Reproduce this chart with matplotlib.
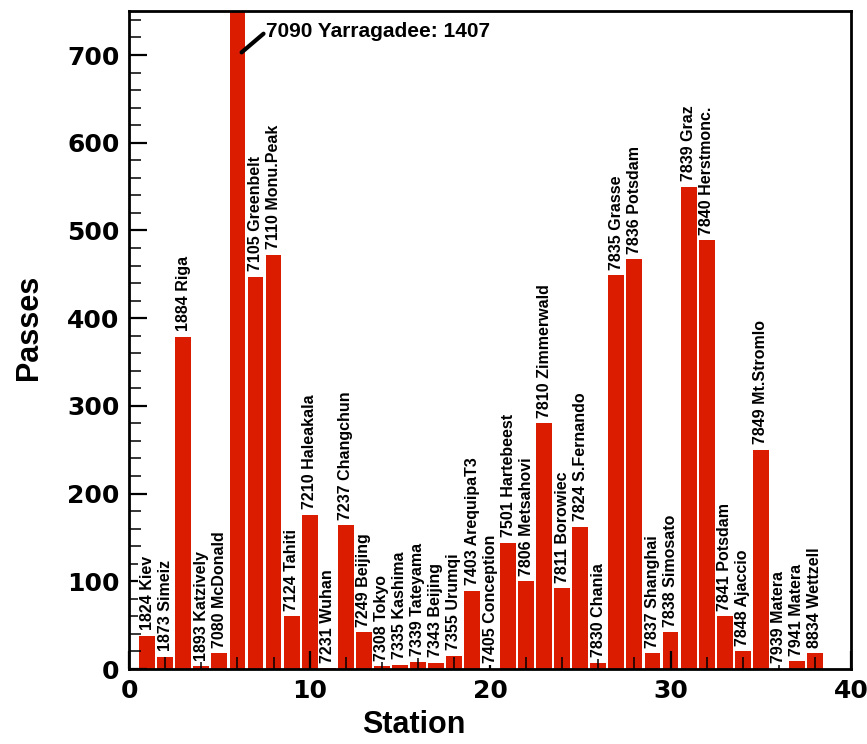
import matplotlib
matplotlib.use('Agg')
import matplotlib.pyplot as plt
import numpy as np

plt.rcParams['font.family'] = ['Liberation Sans', 'DejaVu Sans']

# station codes / names / number of passes
codes = [1824, 1873, 1884, 1893, 7080, 7090, 7105, 7110, 7124, 7210,
         7231, 7237, 7249, 7308, 7335, 7339, 7343, 7355, 7403, 7405,
         7501, 7806, 7810, 7811, 7824, 7830, 7835, 7836, 7837, 7838,
         7839, 7840, 7841, 7848, 7849, 7939, 7941, 8834]
names = ['Kiev', 'Simeiz', 'Riga', 'Katzively', 'McDonald', 'Yarragadee',
         'Greenbelt', 'Monu.Peak', 'Tahiti', 'Haleakala', 'Wuhan', 'Changchun',
         'Beijing', 'Tokyo', 'Kashima', 'Tateyama', 'Beijing', 'Urumqi',
         'ArequipaT3', 'Conception', 'Hartebeest', 'Metsahovi', 'Zimmerwald',
         'Borowiec', 'S.Fernando', 'Chania', 'Grasse', 'Potsdam', 'Shanghai',
         'Simosato', 'Graz', 'Herstmonc.', 'Potsdam', 'Ajaccio', 'Mt.Stromlo',
         'Matera', 'Matera', 'Wettzell']
passes = [38, 14, 379, 3, 18, 1407, 447, 472, 60, 176,
          1, 164, 42, 3, 5, 8, 7, 15, 89, 0,
          144, 100, 280, 92, 162, 7, 449, 467, 18, 42,
          550, 489, 60, 20, 250, 0, 9, 18]

station = np.arange(1, len(passes) + 1)
ymax = 750

fig = plt.figure(figsize=(8.67, 7.44), dpi=100)
ax = fig.add_axes([0.149, 0.1008, 0.8325, 0.8842])

ax.bar(station, passes, width=0.88, color='#dc1c00', edgecolor='none')

for x, c, n, v in zip(station, codes, names, passes):
    if v > ymax:
        # clipped bar -> horizontal note with leader line
        ax.annotate(f'{c} {n}: {v}', xy=(6.23, 703), xytext=(7.6, 727),
                    fontsize=15, fontweight='bold', va='center', ha='left',
                    arrowprops=dict(arrowstyle='-', lw=3, color='black',
                                    shrinkA=0, shrinkB=0, relpos=(0, 0.5)))
        continue
    ax.annotate(f'{c} {n}', xy=(x, v), xytext=(0, 4), textcoords='offset points',
                rotation=90, ha='center', va='bottom', fontsize=11.5,
                fontweight='bold',
                bbox=dict(facecolor='white', edgecolor='none', pad=1))

ax.set_xlim(0, 40)
ax.set_ylim(0, ymax)
ax.set_xticks(np.arange(0, 41, 10))
ax.set_xticks(np.arange(0, 41, 2), minor=True)
ax.set_yticks(np.arange(0, 701, 100))
ax.set_yticks(np.arange(0, 751, 20), minor=True)

ax.tick_params(which='both', direction='in', top=False, right=False)
ax.tick_params(which='major', length=13, width=1.6, labelsize=18, pad=7)
ax.tick_params(which='minor', length=8.5, width=1.1)
for lab in ax.get_xticklabels() + ax.get_yticklabels():
    lab.set_fontweight('bold')
    lab.set_family('DejaVu Sans')
for sp in ax.spines.values():
    sp.set_linewidth(2)

ax.set_xlabel('Station', fontsize=22, fontweight='bold',
              family=['Liberation Sans Narrow', 'Liberation Sans'])
ax.xaxis.set_label_coords(0.395, -0.063)
ax.set_ylabel('Passes', fontsize=22, fontweight='bold',
              family=['Liberation Sans Narrow', 'Liberation Sans'])
ax.yaxis.set_label_coords(-0.118, 0.52)

fig.savefig('out.png', dpi=100)
